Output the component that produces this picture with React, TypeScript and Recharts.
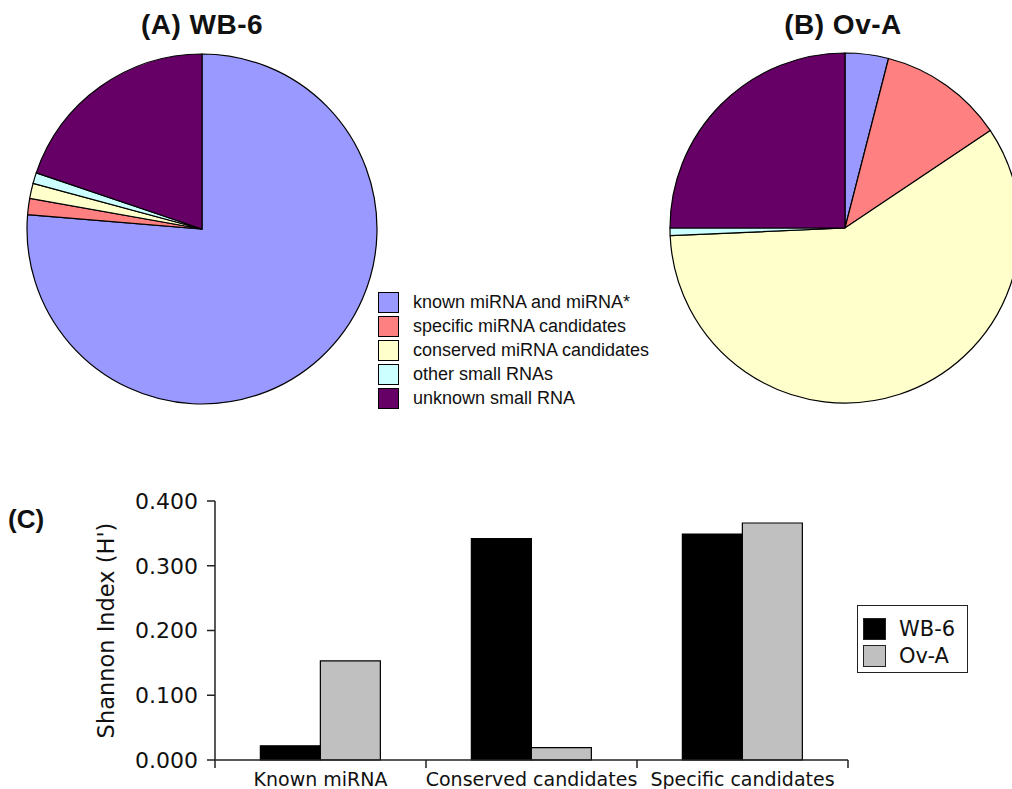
import { Bar, BarChart, Cell, Label, Pie, PieChart, XAxis, YAxis } from "recharts";

// small RNA classes, share of reads (%) per library, read clockwise from 12 o'clock
const rnaClasses = [
  "known miRNA and miRNA*",
  "specific miRNA candidates",
  "conserved miRNA candidates",
  "other small RNAs",
  "unknown small RNA",
];
const wb6Share = [76.3, 1.5, 1.4, 1.0, 19.8];
const ovaShare = [4.0, 11.6, 58.7, 0.7, 25.0];
const classColors = ["#9999ff", "#ff8080", "#ffffcc", "#ccffff", "#660066"];

// shannon diversity per group
const diversityGroups = ["Known miRNA", "Conserved candidates", "Specific candidates"];
const wb6Shannon = [0.022, 0.342, 0.349];
const ovaShannon = [0.153, 0.019, 0.366];
const shannonTicks = [0, 0.1, 0.2, 0.3, 0.4];
const libraries = ["WB-6", "Ov-A"];
const libraryColors = ["#000000", "#c0c0c0"];

const PLOT_LEFT = 215;
const PLOT_RIGHT = 848;
const BAND = (PLOT_RIGHT - PLOT_LEFT) / diversityGroups.length;
const SANS = "'DejaVu Sans', sans-serif";
const ARIAL = "'Liberation Sans', Arial, sans-serif";

const wb6Data = rnaClasses.map((name, i) => ({ name, value: wb6Share[i] }));
const ovaData = rnaClasses.map((name, i) => ({ name, value: ovaShare[i] }));
const barData = diversityGroups.map((group, i) => ({
  group,
  wb6: wb6Shannon[i],
  ova: ovaShannon[i],
}));

function GroupTick(props: any) {
  const { x, y, payload, index } = props;
  const half = BAND / 2;
  return (
    <g>
      <line x1={x - half} x2={x - half} y1={y} y2={y + 8} stroke="#222" strokeWidth={1.5} />
      {index === diversityGroups.length - 1 && (
        <line x1={x + half} x2={x + half} y1={y} y2={y + 8} stroke="#222" strokeWidth={1.5} />
      )}
      <text x={x} y={y + 26} textAnchor="middle" fontFamily={SANS} fontSize={19} fill="#111">
        {payload.value}
      </text>
    </g>
  );
}

function YTitle({ viewBox }: any) {
  const cx = viewBox.x + 11;
  const cy = viewBox.y + viewBox.height / 2;
  return (
    <text
      x={cx}
      y={cy}
      transform={`rotate(-90 ${cx} ${cy})`}
      textAnchor="middle"
      dominantBaseline="central"
      fontFamily={SANS}
      fontSize={22.5}
      fill="#111"
    >
      Shannon Index (H')
    </text>
  );
}

const titleStyle = {
  position: "absolute" as const,
  top: 11,
  width: 300,
  textAlign: "center" as const,
  fontFamily: ARIAL,
  fontWeight: 700,
  fontSize: 28,
  lineHeight: "28px",
  letterSpacing: 0.5,
  color: "#111",
};

export default function App() {
  return (
    <div
      style={{
        position: "fixed",
        left: 0,
        top: 0,
        width: 1012,
        height: 789,
        overflow: "hidden",
        background: "#fff",
      }}
    >
      <div style={{ ...titleStyle, left: 202 - 150 }}>(A) WB-6</div>
      <div style={{ ...titleStyle, left: 843 - 150 }}>(B) Ov-A</div>

      <div style={{ position: "absolute", left: 0, top: 0 }}>
        <PieChart width={1012} height={420} margin={{ top: 0, right: 0, bottom: 0, left: 0 }}>
          <Pie
            data={wb6Data}
            dataKey="value"
            nameKey="name"
            cx={202}
            cy={229}
            outerRadius={175}
            startAngle={90}
            endAngle={-270}
            stroke="#000"
            strokeWidth={1.2}
            isAnimationActive={false}
          >
            {wb6Data.map((d, i) => (
              <Cell key={d.name} fill={classColors[i]} />
            ))}
          </Pie>
          <Pie
            data={ovaData}
            dataKey="value"
            nameKey="name"
            cx={845}
            cy={228}
            outerRadius={175}
            startAngle={90}
            endAngle={-270}
            stroke="#000"
            strokeWidth={1.2}
            isAnimationActive={false}
          >
            {ovaData.map((d, i) => (
              <Cell key={d.name} fill={classColors[i]} />
            ))}
          </Pie>
        </PieChart>
      </div>

      <div style={{ position: "absolute", left: 378, top: 290, fontFamily: ARIAL, fontSize: 18, color: "#111" }}>
        {rnaClasses.map((name, i) => (
          <div key={name} style={{ display: "flex", alignItems: "center", height: 24 }}>
            <span
              style={{
                width: 21,
                height: 21,
                boxSizing: "border-box",
                border: "1px solid #000",
                background: classColors[i],
                marginRight: 14,
              }}
            />
            {name}
          </div>
        ))}
      </div>

      <div
        style={{
          position: "absolute",
          left: 8,
          top: 506,
          fontFamily: ARIAL,
          fontWeight: 700,
          fontSize: 26,
          lineHeight: "26px",
          color: "#111",
        }}
      >
        (C)
      </div>

      <div style={{ position: "absolute", left: 0, top: 470 }}>
        <BarChart
          width={1012}
          height={319}
          data={barData}
          margin={{ top: 31, right: 1012 - PLOT_RIGHT, bottom: 0, left: 95 }}
          barCategoryGap="21.5%"
          barGap={0}
        >
          <XAxis
            dataKey="group"
            height={29}
            interval={0}
            tickLine={false}
            tickSize={0}
            tickMargin={0}
            axisLine={{ stroke: "#222", strokeWidth: 1.5 }}
            tick={<GroupTick />}
          />
          <YAxis
            width={PLOT_LEFT - 95}
            domain={[0, 0.4]}
            ticks={shannonTicks}
            tickFormatter={(v: number) => v.toFixed(3)}
            tickSize={8}
            tickMargin={9}
            tickLine={{ stroke: "#222", strokeWidth: 1.5 }}
            axisLine={{ stroke: "#222", strokeWidth: 1.5 }}
            tick={{ fontFamily: SANS, fontSize: 22, fill: "#111" }}
          >
            <Label content={<YTitle />} />
          </YAxis>
          <Bar dataKey="wb6" name="WB-6" fill={libraryColors[0]} stroke="#000" strokeWidth={1.2} isAnimationActive={false} />
          <Bar dataKey="ova" name="Ov-A" fill={libraryColors[1]} stroke="#000" strokeWidth={1.2} isAnimationActive={false} />
        </BarChart>
      </div>

      <div
        style={{
          position: "absolute",
          left: 857,
          top: 605,
          width: 111,
          height: 68,
          boxSizing: "border-box",
          border: "1.5px solid #222",
          padding: "9px 0 0 5px",
          fontFamily: SANS,
          fontSize: 21,
          color: "#111",
        }}
      >
        {libraries.map((lib, i) => (
          <div key={lib} style={{ display: "flex", alignItems: "center", height: 27 }}>
            <span
              style={{
                width: 23,
                height: 22,
                boxSizing: "border-box",
                border: "1.5px solid #222",
                background: libraryColors[i],
                marginRight: 13,
              }}
            />
            {lib}
          </div>
        ))}
      </div>
    </div>
  );
}
